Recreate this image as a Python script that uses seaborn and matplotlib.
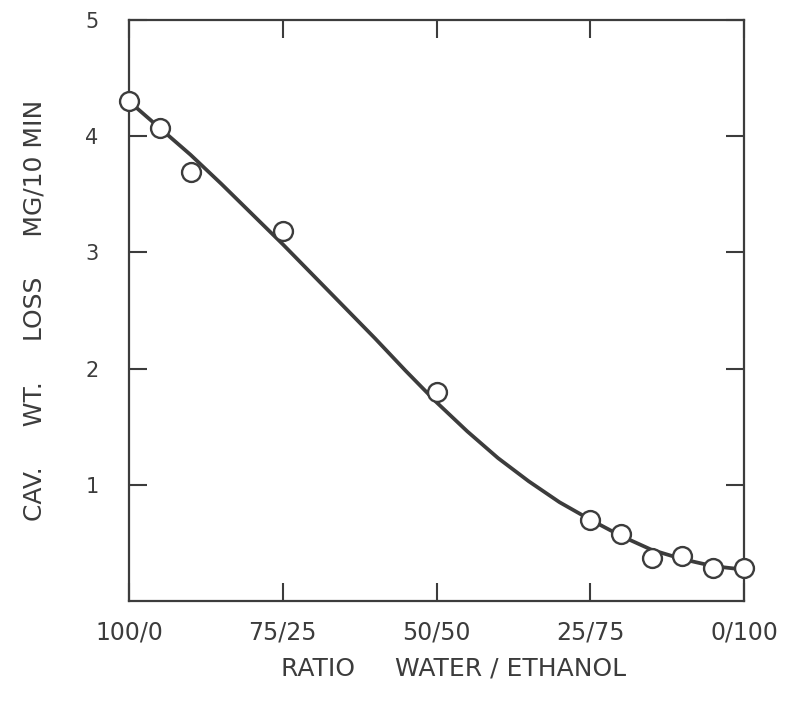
import matplotlib
matplotlib.use("Agg")
import matplotlib.pyplot as plt
import seaborn as sns
import pandas as pd

# measured points: water percentage (rest is ethanol) vs cavitation weight loss
water_pts = [100, 95, 90, 75, 50, 25, 20, 15, 10, 5, 0]
loss_pts = [4.30, 4.07, 3.69, 3.18, 1.80, 0.70, 0.58, 0.37, 0.39, 0.28, 0.28]

# smooth fitted curve
water_curve = [100, 95, 90, 85, 80, 75, 70, 65, 60, 55, 50, 45, 40, 35, 30, 25, 20, 15, 10, 5, 0]
loss_curve = [4.30, 4.07, 3.84, 3.59, 3.33, 3.07, 2.80, 2.53, 2.26, 1.98, 1.71,
              1.46, 1.23, 1.03, 0.85, 0.70, 0.56, 0.44, 0.36, 0.30, 0.27]

x_ticks = [100, 75, 50, 25, 0]
x_labels = ["100/0", "75/25", "50/50", "25/75", "0/100"]
y_ticks = [1, 2, 3, 4, 5]

ink = "#3c3c3c"

sns.set_style("ticks")
plt.rcParams["font.family"] = ["DejaVu Sans"]

fig = plt.figure(figsize=(7.93, 7.03), dpi=100)
ax = fig.add_axes([0.1627, 0.1451, 0.9382 - 0.1627, 0.9716 - 0.1451])

curve = pd.DataFrame({"water": water_curve, "loss": loss_curve})
pts = pd.DataFrame({"water": water_pts, "loss": loss_pts})

sns.lineplot(data=curve, x="water", y="loss", ax=ax, color=ink, linewidth=2.7, sort=False, zorder=2)
sns.scatterplot(data=pts, x="water", y="loss", ax=ax, s=185, facecolor="white",
                edgecolor=ink, linewidth=1.7, zorder=3, clip_on=False)

ax.set_xlim(100, 0)
ax.set_ylim(0, 5)
ax.set_xticks(x_ticks)
ax.set_xticklabels(x_labels, fontsize=17, color=ink)
ax.set_yticks(y_ticks)
ax.set_yticklabels([str(v) for v in y_ticks], fontsize=15, color=ink)

ax.tick_params(direction="in", length=13, width=1.5, color=ink, top=True, right=True,
               labeltop=False, labelright=False)
ax.tick_params(axis="x", pad=14)
ax.tick_params(axis="y", pad=22)
for s in ax.spines.values():
    s.set_color(ink)
    s.set_linewidth(1.6)
    s.set_visible(True)

ax.set_xlabel("RATIO     WATER / ETHANOL", fontsize=18, color=ink, labelpad=9)
ax.xaxis.label.set_x(0.528)
ax.set_ylabel("CAV.     WT.     LOSS     MG/10 MIN", fontsize=18, color=ink, labelpad=28)

fig.savefig("out.png", dpi=100)
plt.close(fig)
